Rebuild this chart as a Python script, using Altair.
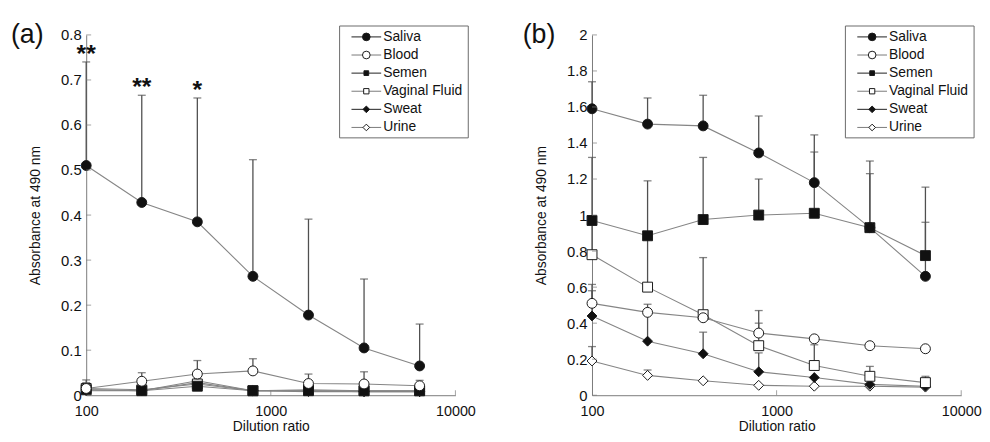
import altair as alt
import pandas as pd

# ---------------- data ----------------
dilution = [100, 200, 400, 800, 1600, 3200, 6400]
series = ["Saliva", "Blood", "Semen", "Vaginal Fluid", "Sweat", "Urine"]

# panel (a): means and upper ends of the error bars (None = no visible bar)
a_means = {
    "Saliva": [0.51, 0.428, 0.385, 0.264, 0.178, 0.105, 0.065],
    "Blood": [0.015, 0.031, 0.047, 0.054, 0.026, 0.025, 0.021],
    "Semen": [0.012, 0.01, 0.02, 0.01, 0.01, 0.01, 0.01],
    "Vaginal Fluid": [0.015, 0.012, 0.025, 0.01, 0.012, 0.01, 0.01],
    "Sweat": [0.01, 0.01, 0.028, 0.01, 0.01, 0.008, 0.008],
    "Urine": [0.012, 0.01, 0.032, 0.01, 0.008, 0.008, 0.008],
}
a_tops = {
    "Saliva": [0.74, 0.666, 0.66, 0.523, 0.391, 0.258, 0.158],
    "Blood": [0.028, 0.05, 0.077, 0.081, 0.047, 0.052, 0.033],
    "Semen": [0.034, None, None, None, None, None, None],
    "Vaginal Fluid": [None] * 7,
    "Sweat": [None] * 7,
    "Urine": [None] * 7,
}

# panel (b)
b_means = {
    "Saliva": [1.59, 1.505, 1.495, 1.345, 1.18, 0.93, 0.66],
    "Blood": [0.51, 0.46, 0.43, 0.345, 0.313, 0.275, 0.258],
    "Semen": [0.97, 0.885, 0.975, 1.0, 1.01, 0.93, 0.775],
    "Vaginal Fluid": [0.78, 0.6, 0.447, 0.275, 0.165, 0.105, 0.07],
    "Sweat": [0.44, 0.30, 0.23, 0.13, 0.098, 0.06, 0.05],
    "Urine": [0.19, 0.11, 0.08, 0.055, 0.05, 0.05, 0.045],
}
b_tops = {
    "Saliva": [1.74, 1.65, 1.665, 1.55, 1.445, 1.30, 1.155],
    "Blood": [0.58, 0.505, None, 0.47, None, None, None],
    "Semen": [1.32, 1.19, 1.32, 1.2, 1.35, 1.23, 0.96],
    "Vaginal Fluid": [0.95, 0.9, 0.764, 0.4, 0.28, 0.16, 0.105],
    "Sweat": [0.615, 0.45, 0.35, 0.235, None, None, None],
    "Urine": [0.27, 0.14, None, None, None, None, None],
}

# significance marks in panel (a)
star_x = [100, 200, 400]
star_y = [0.74, 0.666, 0.66]
star_text = ["**", "**", "*"]

a_yticks = [0, 0.1, 0.2, 0.3, 0.4, 0.5, 0.6, 0.7, 0.8]
b_yticks = [0, 0.2, 0.4, 0.6, 0.8, 1.0, 1.2, 1.4, 1.6, 1.8, 2.0]
x_ticks = [100, 1000, 10000]

# ---------------- styles ----------------
shapes = ["circle", "circle", "square", "square", "diamond", "diamond"]
fills = ["#111111", "#ffffff", "#111111", "#ffffff", "#111111", "#ffffff"]
sizes = [100, 100, 38, 48, 75, 75]
FONT = "Liberation Sans"
LINE = "#858585"
ERR = "#505050"
AXIS = "#7a7a7a"
MK = "#1a1a1a"
W, H = 373, 364


def build_df(means, tops):
    rows = []
    for s in reversed(series):
        for i, d in enumerate(dilution):
            rows.append({"series": s, "dilution": d, "value": means[s][i], "top": tops[s][i]})
    return pd.DataFrame(rows)


def panel(means, tops, ymax, yticks, tag, tag_x, stars=False):
    df = build_df(means, tops)
    err = df.dropna(subset=["top"])

    xscale = alt.Scale(type="log", domain=[100, 10000], nice=False)
    xaxis = alt.Axis(values=x_ticks, format="d", title="Dilution ratio", ticks=False,
                     grid=False, labelFontSize=14.5, titleFontSize=14, labelPadding=9,
                     titlePadding=2, domainColor=AXIS, labelColor="#111", titleColor="#111",
                     labelFont=FONT, titleFont=FONT, titleFontWeight="normal",
                     labelFlush=False)
    yscale = alt.Scale(domain=[0, ymax], nice=False, zero=True)
    yaxis = alt.Axis(values=yticks, format="~g", title="Absorbance at 490 nm", ticks=False,
                     grid=False, labelFontSize=15, titleFontSize=14, labelPadding=5,
                     titlePadding=18, domainColor=AXIS, labelColor="#111", titleColor="#111",
                     labelFont=FONT, titleFont=FONT, titleFontWeight="normal")

    def X(f="dilution"):
        return alt.X(f + ":Q", scale=xscale, axis=xaxis)

    def Y(f="value"):
        return alt.Y(f + ":Q", scale=yscale, axis=yaxis)

    lines = alt.Chart(df).mark_line(color=LINE, strokeWidth=1.1).encode(
        x=X(), y=Y(), detail="series:N")
    rules = alt.Chart(err).mark_rule(color=ERR, strokeWidth=1.3).encode(
        x=X(), y=Y(), y2="top:Q")
    caps = alt.Chart(err).mark_tick(orient="horizontal", size=8, thickness=1.3, color=ERR).encode(
        x=X(), y=Y("top"))
    pts = alt.Chart(df).mark_point(stroke=MK, strokeWidth=1, opacity=1, fillOpacity=1).encode(
        x=X(), y=Y(),
        shape=alt.Shape("series:N", scale=alt.Scale(domain=series, range=shapes), legend=None),
        fill=alt.Fill("series:N", scale=alt.Scale(domain=series, range=fills), legend=None),
        size=alt.Size("series:N", scale=alt.Scale(domain=series, range=sizes), legend=None),
    )
    # inward axis ticks
    ytk = alt.Chart(pd.DataFrame({"value": yticks})).mark_tick(
        orient="horizontal", size=5, thickness=1, color=AXIS).encode(
        y=Y(), x=alt.value(2.5))
    xtk = alt.Chart(pd.DataFrame({"dilution": x_ticks[1:]})).mark_tick(
        orient="vertical", size=5, thickness=1, color=AXIS).encode(
        x=X(), y=alt.value(H - 2.5))

    tag_text = alt.Chart(pd.DataFrame({"t": [tag]})).mark_text(
        align="left", baseline="middle", fontSize=27, font=FONT, color="#111").encode(
        x=alt.value(tag_x), y=alt.value(0), text="t:N")

    layers = [lines, rules, caps, pts, ytk, xtk, tag_text]

    if stars:
        sdf = pd.DataFrame({"dilution": star_x, "value": star_y, "s": star_text})
        layers.append(alt.Chart(sdf).mark_text(
            baseline="alphabetic", fontSize=25, fontWeight="bold", font=FONT, color="#111").encode(
            x=X(), y=Y(), text="s:N"))

    # legend box
    bx0, bx1, by0, by1 = 256, 386, -9, 104
    one = pd.DataFrame({"a": [0]})
    layers.append(alt.Chart(one).mark_rect(fill="white", stroke="#6a6a6a", strokeWidth=1).encode(
        x=alt.value(bx0), x2=alt.value(bx1), y=alt.value(by0), y2=alt.value(by1)))
    for i, s in enumerate(series):
        yy = 2 + i * 18.3
        layers.append(alt.Chart(one).mark_rule(color=LINE if fills[i] == "#ffffff" else "#333",
                                               strokeWidth=1.1).encode(
            x=alt.value(268), x2=alt.value(298), y=alt.value(yy)))
        layers.append(alt.Chart(one).mark_point(
            shape=shapes[i], fill=fills[i], stroke=MK, strokeWidth=1, opacity=1, fillOpacity=1,
            size=sizes[i] * 0.6).encode(x=alt.value(283), y=alt.value(yy)))
        layers.append(alt.Chart(pd.DataFrame({"t": [s]})).mark_text(
            align="left", baseline="middle", fontSize=14, font=FONT, color="#111").encode(
            x=alt.value(300), y=alt.value(yy), text="t:N"))

    return alt.layer(*layers).properties(width=W, height=H)


pa = panel(a_means, a_tops, 0.8, a_yticks, "(a)", -76, stars=True)
pb = panel(b_means, b_tops, 2.0, b_yticks, "(b)", -70)

chart = alt.hconcat(pa, pb, spacing=47).properties(
    padding={"left": 3, "top": 11, "right": 0, "bottom": 0}
).configure_view(stroke=None)

chart.save("out.html", embed_options={"renderer": "svg", "actions": False})
